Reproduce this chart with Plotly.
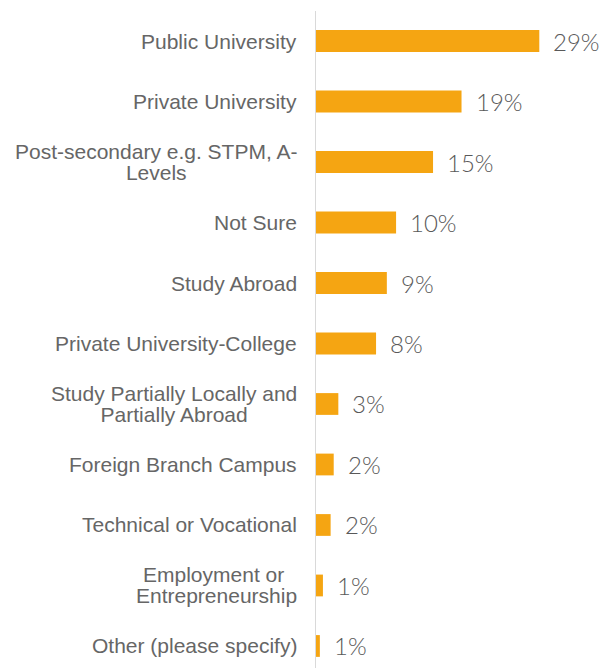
import plotly.graph_objects as go

categories = [
    "Public University",
    "Private University",
    "Post-secondary e.g. STPM, A-<br>Levels",
    "Not Sure",
    "Study Abroad",
    "Private University-College",
    "Study Partially Locally and<br>Partially Abroad",
    "Foreign Branch Campus",
    "Technical or Vocational",
    "Employment or <br>Entrepreneurship",
    "Other (please specify)",
]
values = [29.0, 18.9, 15.2, 10.4, 9.2, 7.8, 2.9, 2.3, 1.9, 0.9, 0.5]
value_labels = ["29%", "19%", "15%", "10%", "9%", "8%", "3%", "2%", "2%", "1%", "1%"]

BAR = "#F5A512"
LABEL_GREY = "#666666"
VALUE_GREY = "#595959"

fig = go.Figure()
fig.add_trace(go.Bar(
    x=values, y=categories, orientation="h",
    marker=dict(color=BAR, line=dict(width=0)),
    width=0.36, hoverinfo="skip",
))

annotations = []
for cat, v, lab in zip(categories, values, value_labels):
    annotations.append(dict(
        x=0, y=cat, xref="x", yref="y", xanchor="right", yanchor="middle",
        text="<span style='font-size:21px'>" + cat.replace("<br>", "</span><br><span style='font-size:21px'>") + "</span>",
        showarrow=False, align="center", xshift=-17,
        font=dict(family="Liberation Sans, Arial", size=16.5, color=LABEL_GREY),
    ))
    annotations.append(dict(
        x=v, y=cat, xref="x", yref="y", xanchor="left", yanchor="middle",
        text=lab, showarrow=False, xshift=12,
        font=dict(family="Lato", size=24, color=VALUE_GREY, weight=300),
    ))

fig.update_layout(
    width=609, height=668,
    margin=dict(l=316, r=0, t=11, b=0),
    plot_bgcolor="white", paper_bgcolor="white",
    showlegend=False,
    annotations=annotations,
    xaxis=dict(range=[0, 293 / 7.7], showgrid=False, zeroline=False,
               showticklabels=False, showline=False, fixedrange=True),
    yaxis=dict(categoryorder="array", categoryarray=categories,
               range=[10.364, -0.496], showgrid=False, zeroline=False,
               showticklabels=False, showline=True, linecolor="#d9d9d9",
               linewidth=1.5, ticks="", fixedrange=True),
)

fig.write_html("out.html",
               config={"displayModeBar": False, "staticPlot": True},
               post_script="document.body.style.margin='0';document.body.style.overflow='hidden';")
